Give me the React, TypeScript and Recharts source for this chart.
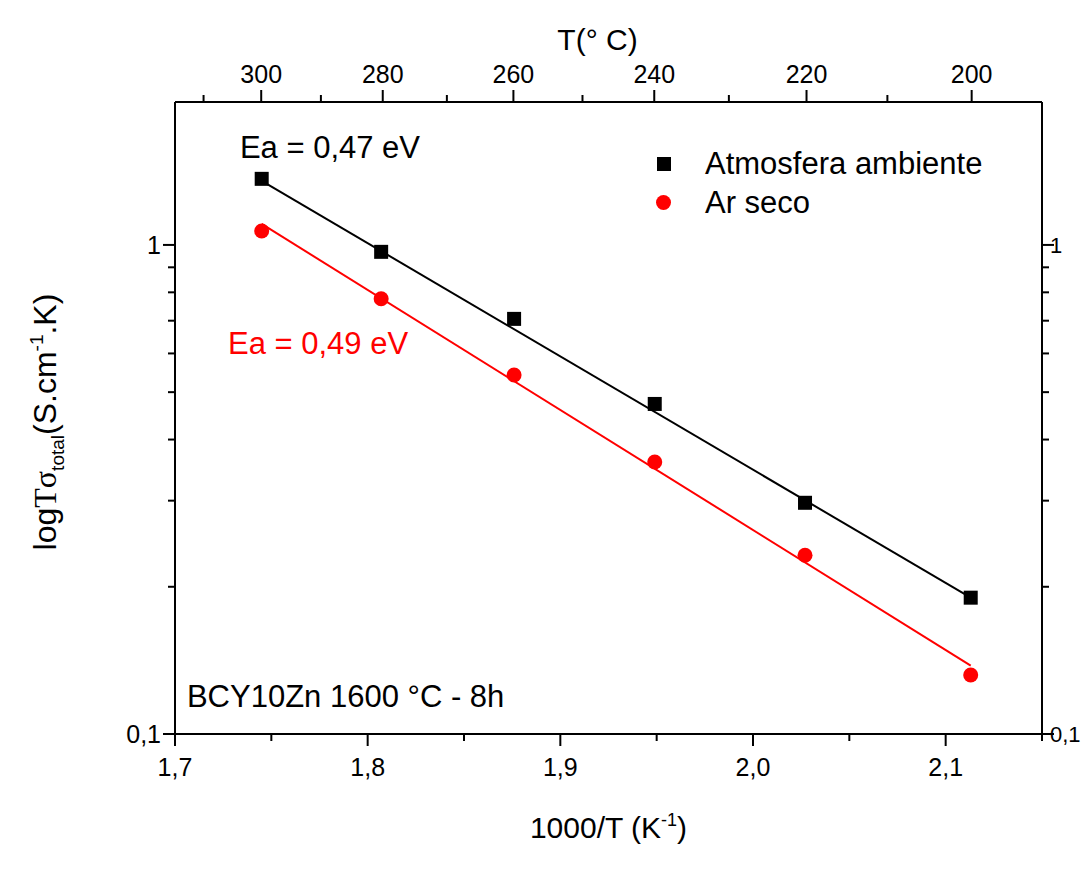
import React from 'react';
import { ScatterChart, Scatter, XAxis, YAxis, ReferenceDot, Legend } from 'recharts';

// 1000/T (K^-1) for T = 300, 280, 260, 240, 220, 200 °C
const invT = [1.745, 1.807, 1.876, 1.949, 2.027, 2.113];
const ambienteValues = [1.365, 0.968, 0.706, 0.473, 0.297, 0.19];
const arSecoValues = [1.068, 0.776, 0.542, 0.36, 0.232, 0.132];

// linear (Arrhenius) fits, end points
const fitX = [1.745, 2.113];
const fitAmbiente = [1.352, 0.19];
const fitArSeco = [1.104, 0.138];

const seriesNames = ['Atmosfera ambiente', 'Ar seco'];

const xTicks = [1.7, 1.75, 1.8, 1.85, 1.9, 1.95, 2.0, 2.05, 2.1, 2.15];
const xMajor = [1.7, 1.8, 1.9, 2.0, 2.1];
const topTempTicks = [310, 300, 290, 280, 270, 260, 250, 240, 230, 220, 210, 200];
const topTempMajor = [300, 280, 260, 240, 220, 200];
const yTicks = [0.1, 0.2, 0.3, 0.4, 0.5, 0.6, 0.7, 0.8, 0.9, 1];
const yMajor = [0.1, 1];

const X_DOMAIN: [number, number] = [1.7, 2.15];
const Y_DOMAIN: [number, number] = [0.1, 1.96];

const FONT = "'Liberation Sans', Arial, sans-serif";
const RED = '#ff0000';

const ambienteData = invT.map((x, i) => ({ x, y: ambienteValues[i] }));
const arSecoData = invT.map((x, i) => ({ x, y: arSecoValues[i] }));
const fitAmbienteData = fitX.map((x, i) => ({ x, y: fitAmbiente[i] }));
const fitArSecoData = fitX.map((x, i) => ({ x, y: fitArSeco[i] }));
const topTickPositions = topTempTicks.map((t) => 1000 / (t + 273.15));

const isIn = (arr: number[], v: number) => arr.some((m) => Math.abs(m - v) < 1e-6);
const fmtComma = (v: number, d: number) => v.toFixed(d).replace('.', ',');

const MAJOR = 12;
const MINOR = 7;

const BottomTick = (p: any) => {
  const v = p.payload.value;
  const major = isIn(xMajor, v);
  return (
    <g>
      <line x1={p.x} y1={p.y} x2={p.x} y2={p.y + (major ? MAJOR : MINOR)} stroke="#000" strokeWidth={2} />
      {major && (
        <text x={p.x} y={p.y + 42} textAnchor="middle" fontSize={25} fontFamily={FONT} fill="#000">
          {fmtComma(v, 1)}
        </text>
      )}
    </g>
  );
};

const TopTick = (p: any) => {
  const t = topTempTicks[p.index];
  const major = topTempMajor.includes(t);
  return (
    <g>
      <line x1={p.x} y1={p.y} x2={p.x} y2={p.y - (major ? MAJOR : MINOR)} stroke="#000" strokeWidth={2} />
      {major && (
        <text x={p.x} y={p.y - 19} textAnchor="middle" fontSize={25} fontFamily={FONT} fill="#000">
          {t}
        </text>
      )}
    </g>
  );
};

const yLabel = (v: number) => (Math.abs(v - 1) < 1e-6 ? '1' : fmtComma(v, 1));

const LeftTick = (p: any) => {
  const v = p.payload.value;
  const major = isIn(yMajor, v);
  return (
    <g>
      <line x1={p.x} y1={p.y} x2={p.x - (major ? MAJOR : MINOR)} y2={p.y} stroke="#000" strokeWidth={2} />
      {major && (
        <text x={p.x - 14} y={p.y + 9} textAnchor="end" fontSize={25} fontFamily={FONT} fill="#000">
          {yLabel(v)}
        </text>
      )}
    </g>
  );
};

const RightTick = (p: any) => {
  const v = p.payload.value;
  const major = isIn(yMajor, v);
  return (
    <g>
      <line x1={p.x} y1={p.y} x2={p.x + (major ? MAJOR : MINOR)} y2={p.y} stroke="#000" strokeWidth={2} />
      {major && (
        <text x={p.x + 8} y={p.y + 8} textAnchor="start" fontSize={22} fontFamily={FONT} fill="#000">
          {yLabel(v)}
        </text>
      )}
    </g>
  );
};

const Square = (p: any) => <rect x={p.cx - 7} y={p.cy - 7} width={14} height={14} fill="#000" />;
const Circle = (p: any) => <circle cx={p.cx} cy={p.cy} r={7.5} fill={RED} />;
const NoShape = () => <g />;

const BottomTitle = (props: any) => {
  const vb = props.viewBox;
  return (
    <text x={vb.x + vb.width / 2} y={vb.y + 104} textAnchor="middle" fontSize={30} fontFamily={FONT} fill="#000">
      1000/T (K
      <tspan fontSize={18} dy={-12}>-1</tspan>
      <tspan dy={12}>)</tspan>
    </text>
  );
};

const TopTitle = (props: any) => {
  const vb = props.viewBox;
  return (
    <text x={vb.x + vb.width / 2 - 11} y={vb.y + 42} textAnchor="middle" fontSize={30} fontFamily={FONT} fill="#000">
      T(° C)
    </text>
  );
};

const LeftTitle = (props: any) => {
  const vb = props.viewBox;
  const x = 48;
  const y = vb.y + vb.height / 2 + 4;
  return (
    <text transform={`rotate(-90, ${x}, ${y})`} x={x} y={y} textAnchor="middle" fontSize={32} fontFamily={FONT} fill="#000">
      log
      <tspan fontFamily="'Liberation Serif', 'Times New Roman', serif">Tσ</tspan>
      <tspan fontSize={19} dy={8}>total</tspan>
      <tspan dy={-8}>(S.cm</tspan>
      <tspan fontSize={19} dy={-13}>-1</tspan>
      <tspan dy={13}>.K)</tspan>
    </text>
  );
};

const annotation = (text: string, color: string) => (p: any) => (
  <text x={p.cx} y={p.cy} fontSize={31} fontFamily={FONT} fill={color}>
    {text}
  </text>
);

const LegendContent = () => (
  <div style={{ fontFamily: FONT, fontSize: 31, color: '#000' }}>
    {seriesNames.map((name, i) => (
      <div key={name} style={{ display: 'flex', alignItems: 'center', height: 39 }}>
        <div style={{ width: 15, display: 'flex', justifyContent: 'center' }}>
          {i === 0 ? (
            <div style={{ width: 14, height: 14, background: '#000' }} />
          ) : (
            <div style={{ width: 15, height: 15, borderRadius: '50%', background: RED }} />
          )}
        </div>
        <span style={{ marginLeft: 34, whiteSpace: 'nowrap' }}>{name}</span>
      </div>
    ))}
  </div>
);

export default function App() {
  return (
    <div>
      <style>{'.recharts-surface { overflow: visible; } body { overflow: hidden; }'}</style>
      <ScatterChart width={1074} height={857} margin={{ top: 0, right: 0, bottom: 0, left: 0 }}>
        <XAxis
          xAxisId="b"
          type="number"
          dataKey="x"
          orientation="bottom"
          domain={X_DOMAIN}
          allowDataOverflow
          ticks={xTicks}
          interval={0}
          height={131}
          tickSize={0}
          tickMargin={0}
          tickLine={false}
          tick={BottomTick}
          axisLine={{ stroke: '#000', strokeWidth: 2 }}
          label={{ content: BottomTitle }}
        />
        <XAxis
          xAxisId="t"
          type="number"
          dataKey="x"
          orientation="top"
          domain={X_DOMAIN}
          allowDataOverflow
          ticks={topTickPositions}
          interval={0}
          height={94}
          tickSize={0}
          tickMargin={0}
          tickLine={false}
          tick={TopTick}
          axisLine={{ stroke: '#000', strokeWidth: 2 }}
          label={{ content: TopTitle }}
        />
        <YAxis
          yAxisId="l"
          type="number"
          dataKey="y"
          orientation="left"
          scale="log"
          domain={Y_DOMAIN}
          allowDataOverflow
          ticks={yTicks}
          interval={0}
          width={167}
          tickSize={0}
          tickMargin={0}
          tickLine={false}
          tick={LeftTick}
          axisLine={{ stroke: '#000', strokeWidth: 2 }}
          label={{ content: LeftTitle }}
        />
        <YAxis
          yAxisId="r"
          type="number"
          dataKey="y"
          orientation="right"
          scale="log"
          domain={Y_DOMAIN}
          allowDataOverflow
          ticks={yTicks}
          interval={0}
          width={40}
          tickSize={0}
          tickMargin={0}
          tickLine={false}
          tick={RightTick}
          axisLine={{ stroke: '#000', strokeWidth: 2 }}
        />
        <Scatter
          xAxisId="b"
          yAxisId="l"
          data={fitAmbienteData}
          line={{ stroke: '#000', strokeWidth: 2 }}
          shape={NoShape}
          legendType="none"
          isAnimationActive={false}
        />
        <Scatter
          xAxisId="b"
          yAxisId="l"
          data={fitArSecoData}
          line={{ stroke: RED, strokeWidth: 2 }}
          shape={NoShape}
          legendType="none"
          isAnimationActive={false}
        />
        <Scatter
          name={seriesNames[0]}
          xAxisId="b"
          yAxisId="l"
          data={ambienteData}
          fill="#000"
          shape={Square}
          isAnimationActive={false}
        />
        <Scatter
          name={seriesNames[1]}
          xAxisId="b"
          yAxisId="l"
          data={arSecoData}
          fill={RED}
          shape={Circle}
          isAnimationActive={false}
        />
        <ReferenceDot xAxisId="b" yAxisId="l" x={1.7337} y={1.505} r={0} shape={annotation('Ea = 0,47 eV', '#000')} />
        <ReferenceDot xAxisId="b" yAxisId="l" x={1.7275} y={0.599} r={0} shape={annotation('Ea = 0,49 eV', RED)} />
        <ReferenceDot xAxisId="b" yAxisId="l" x={1.7062} y={0.1135} r={0} shape={annotation('BCY10Zn 1600 °C - 8h', '#000')} />
        <Legend
          layout="horizontal"
          verticalAlign="middle"
          align="center"
          content={LegendContent}
          wrapperStyle={{ position: 'absolute', left: 648, top: 136, width: 'auto', height: 'auto' }}
        />
      </ScatterChart>
    </div>
  );
}
